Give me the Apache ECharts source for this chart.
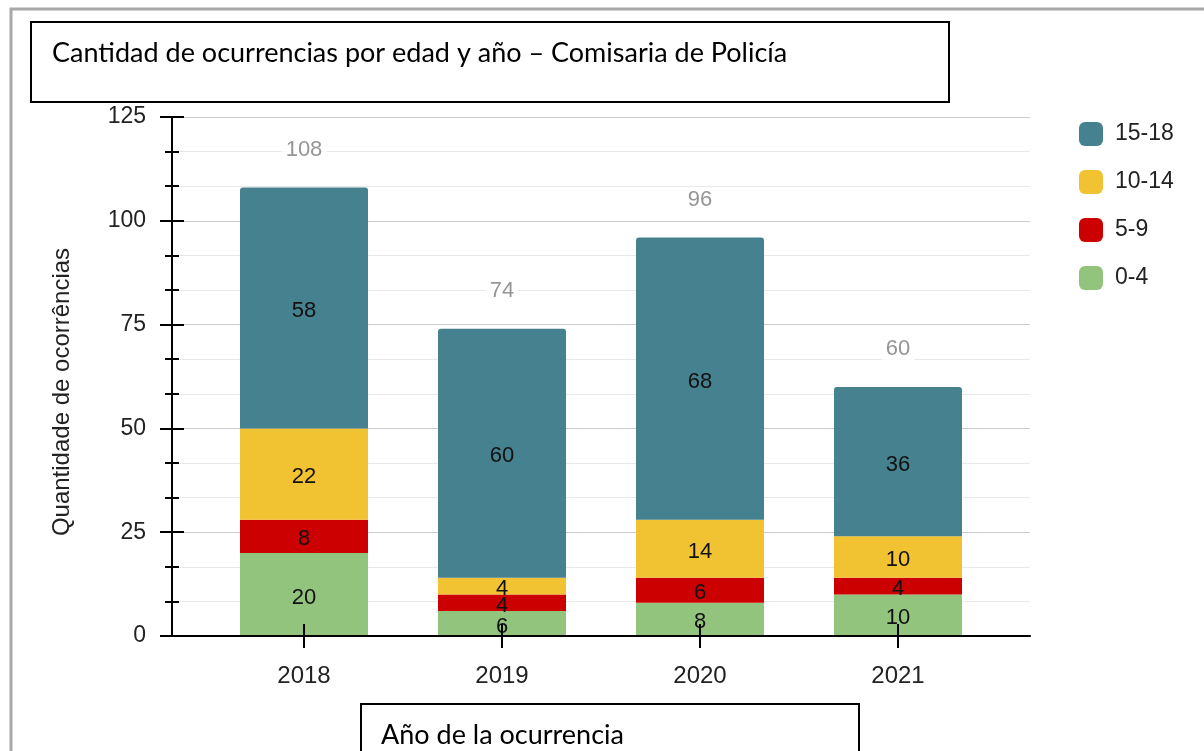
<!DOCTYPE html>
<html>
<head>
<meta charset="utf-8">
<script src="https://cdn.jsdelivr.net/npm/echarts@6/dist/echarts.min.js"></script>
<style>
html,body{margin:0;padding:0;background:#fff;}
#c{width:1204px;height:751px;}
</style>
</head>
<body>
<div id="c"></div>
<script>
const categories = ['2018', '2019', '2020', '2021'];
const seriesNames = ['0-4', '5-9', '10-14', '15-18'];
const age0_4 = [20, 6, 8, 10];
const age5_9 = [8, 4, 6, 4];
const age10_14 = [22, 4, 14, 10];
const age15_18 = [58, 60, 68, 36];
const yTicks = [0, 25, 50, 75, 100, 125];
const titleText = 'Cantidad de ocurrencias por edad y año – Comisaria de Policía';
const xAxisTitle = 'Año de la ocurrencia';
const yAxisTitle = 'Quantidade de ocorrências';

const colors = ['#93c47d', '#cc0000', '#f1c232', '#45818e'];
const values = [age0_4, age5_9, age10_14, age15_18];
const totals = categories.map((c, i) => values.reduce((s, arr) => s + arr[i], 0));

const FONT = '"Liberation Sans", Arial, sans-serif';
const chart = echarts.init(document.getElementById('c'), null, {renderer: 'canvas'});

const barSeries = seriesNames.map((name, k) => ({
  name: name,
  type: 'bar',
  stack: 'total',
  xAxisIndex: 1,
  yAxisIndex: 2,
  barWidth: 128,
  data: values[k],
  itemStyle: {
    color: colors[k],
    borderRadius: k === 3 ? [3, 3, 0, 0] : 0
  },
  label: {
    show: true,
    position: 'inside',
    offset: [0, 3],
    color: '#111',
    fontSize: 22,
    fontFamily: FONT
  },
  z: 3
}));

const option = {
  animation: false,
  backgroundColor: '#fff',
  graphic: [
    {type: 'rect', z: -10, silent: true, shape: {x: 11, y: 9, width: 1400, height: 1000},
      style: {fill: 'none', stroke: '#a8a8a8', lineWidth: 3}},
    {type: 'rect', z: 100, shape: {x: 31, y: 22, width: 918, height: 80},
      style: {fill: '#fff', stroke: '#000', lineWidth: 2}},
    {type: 'text', z: 101, x: 52, y: 53,
      style: {text: titleText, fill: '#000', font: '27px Lato, "Open Sans", sans-serif', verticalAlign: 'middle'}},
    {type: 'rect', z: 100, shape: {x: 361, y: 704, width: 498, height: 100},
      style: {fill: '#fff', stroke: '#000', lineWidth: 2}},
    {type: 'text', z: 101, x: 381, y: 735,
      style: {text: xAxisTitle, fill: '#000', font: '27px Lato, "Open Sans", sans-serif', verticalAlign: 'middle'}},
    {type: 'text', z: 101, x: 62, y: 392, rotation: Math.PI / 2,
      style: {text: yAxisTitle, fill: '#222', font: '24px "Liberation Sans", Arial, sans-serif', align: 'center', verticalAlign: 'middle'}}
  ],
  legend: {
    orient: 'vertical',
    left: 1074,
    top: 117,
    itemWidth: 24,
    itemHeight: 24,
    itemGap: 24,
    icon: 'roundRect',
    data: ['15-18', '10-14', '5-9', '0-4'],
    textStyle: {color: '#222', fontSize: 23, fontFamily: FONT, padding: [0, 0, 0, 7]}
  },
  grid: [
    {left: 172, right: 174, top: 117, bottom: 115, containLabel: false},
    {left: 205, right: 207, top: 117, bottom: 115, containLabel: false}
  ],
  xAxis: [
    {gridIndex: 0, type: 'value', min: 0, max: 1, z: 10,
      axisLine: {show: true, lineStyle: {color: '#000', width: 2}},
      axisTick: {show: false}, axisLabel: {show: false}, splitLine: {show: false}},
    {gridIndex: 1, type: 'category', data: categories, z: 10, position: 'bottom',
      axisLine: {show: false},
      axisTick: {show: true, alignWithLabel: true, length: 12, lineStyle: {color: '#000', width: 2}},
      axisLabel: {color: '#222', fontSize: 24, fontFamily: FONT, margin: 28},
      splitLine: {show: false}},
    {gridIndex: 1, type: 'category', data: categories, z: 10, position: 'bottom',
      axisLine: {show: false},
      axisTick: {show: true, inside: true, alignWithLabel: true, length: 12, lineStyle: {color: '#000', width: 2}},
      axisLabel: {show: false},
      splitLine: {show: false}}
  ],
  yAxis: [
    {gridIndex: 0, type: 'value', min: yTicks[0], max: yTicks[yTicks.length - 1], interval: 25, z: 1,
      axisLine: {show: true, lineStyle: {color: '#000', width: 2}},
      axisTick: {show: true, length: 12, lineStyle: {color: '#000', width: 2}},
      minorTick: {show: true, splitNumber: 3, length: 7, lineStyle: {color: '#000', width: 2}},
      axisLabel: {color: '#222', fontSize: 23, fontFamily: FONT, margin: 26},
      splitLine: {show: true, lineStyle: {color: '#cccccc', width: 1}},
      minorSplitLine: {show: true, lineStyle: {color: '#e8e8e8', width: 1}}},
    {gridIndex: 0, type: 'value', position: 'left', min: yTicks[0], max: yTicks[yTicks.length - 1], interval: 25, z: 10,
      axisLine: {show: false},
      axisTick: {show: true, inside: true, length: 12, lineStyle: {color: '#000', width: 2}},
      minorTick: {show: true, splitNumber: 3, length: 7, lineStyle: {color: '#000', width: 2}},
      axisLabel: {show: false},
      splitLine: {show: false}, minorSplitLine: {show: false}},
    {gridIndex: 1, type: 'value', min: yTicks[0], max: yTicks[yTicks.length - 1], show: false,
      splitLine: {show: false}}
  ],
  series: barSeries.concat([{
    name: 'total',
    type: 'scatter',
    xAxisIndex: 1,
    yAxisIndex: 2,
    data: totals,
    symbol: 'circle',
    symbolSize: 1,
    itemStyle: {color: 'rgba(0,0,0,0)'},
    label: {show: true, position: 'top', distance: 25, color: '#7a7a7a', fontSize: 22, fontFamily: FONT,
      backgroundColor: '#fff', padding: [1, 4]},
    z: 4
  }])
};
chart.setOption(option);
</script>
</body>
</html>
